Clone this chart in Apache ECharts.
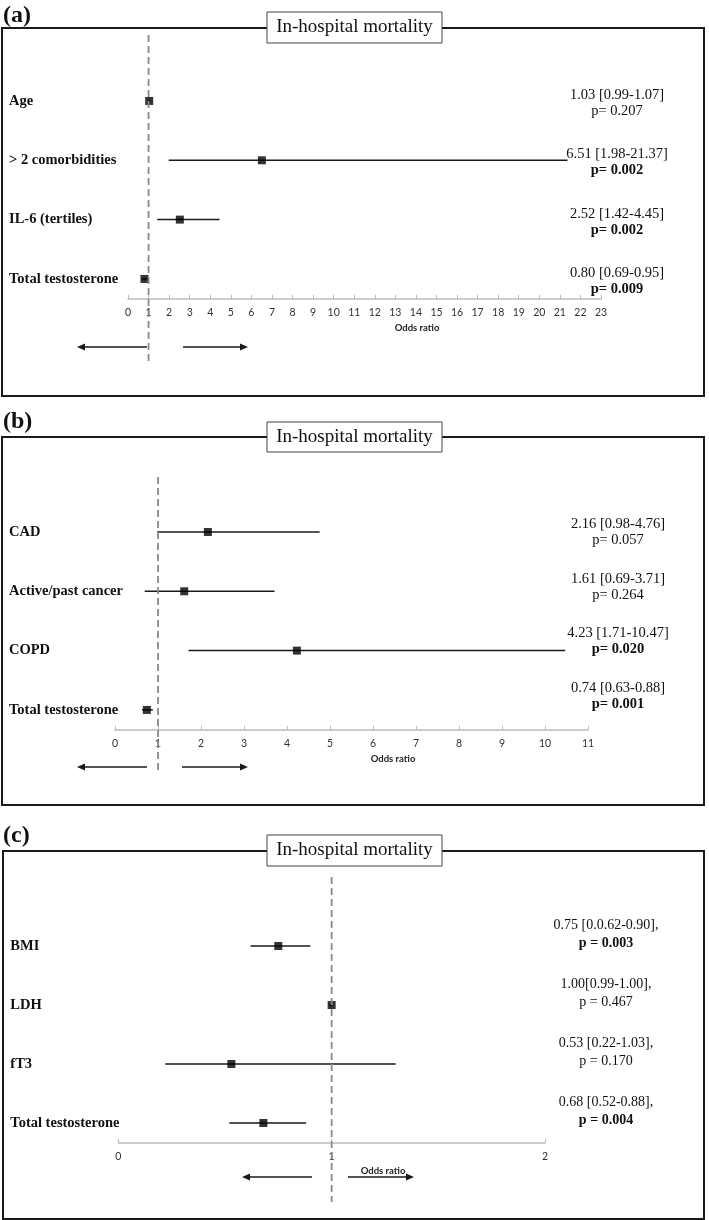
<!DOCTYPE html>
<html>
<head>
<meta charset="utf-8">
<script src="https://cdn.jsdelivr.net/npm/echarts@6/dist/echarts.min.js"></script>
<style>
html, body { margin: 0; padding: 0; background: #fff; }
#chart { width: 709px; height: 1220px; }
</style>
</head>
<body>
<div id="chart"></div>
<script>
// (a)
var aLabels = ['Age', '> 2 comorbidities', 'IL-6 (tertiles)', 'Total testosterone'];
var aOR = [1.03, 6.51, 2.52, 0.80];
var aLow = [0.99, 1.98, 1.42, 0.69];
var aHigh = [1.07, 21.37, 4.45, 0.95];
var aEst = ['1.03 [0.99-1.07]', '6.51 [1.98-21.37]', '2.52 [1.42-4.45]', '0.80 [0.69-0.95]'];
var aP = ['p= 0.207', 'p= 0.002', 'p= 0.002', 'p= 0.009'];
var aSig = [false, true, true, true];
var aAxis = [0, 23];

// (b)
var bLabels = ['CAD', 'Active/past cancer', 'COPD', 'Total testosterone'];
var bOR = [2.16, 1.61, 4.23, 0.74];
var bLow = [0.98, 0.69, 1.71, 0.63];
var bHigh = [4.76, 3.71, 10.47, 0.88];
var bEst = ['2.16 [0.98-4.76]', '1.61 [0.69-3.71]', '4.23 [1.71-10.47]', '0.74 [0.63-0.88]'];
var bP = ['p= 0.057', 'p= 0.264', 'p= 0.020', 'p= 0.001'];
var bSig = [false, false, true, true];
var bAxis = [0, 11];

// (c)
var cLabels = ['BMI', 'LDH', 'fT3', 'Total testosterone'];
var cOR = [0.75, 1.00, 0.53, 0.68];
var cLow = [0.62, 0.99, 0.22, 0.52];
var cHigh = [0.90, 1.00, 1.30, 0.88];
var cEst = ['0.75 [0.0.62-0.90],', '1.00[0.99-1.00],', '0.53 [0.22-1.03],', '0.68 [0.52-0.88],'];
var cP = ['p = 0.003', 'p = 0.467', 'p = 0.170', 'p = 0.004'];
var cSig = [true, false, false, true];
var cAxis = [0, 2];

var SERIF = '"Liberation Serif", "Times New Roman", serif';
var SANS = 'Lato, "Liberation Sans", sans-serif';

var panels = [
	{ tag: '(a)', labels: aLabels, or: aOR, lo: aLow, hi: aHigh, est: aEst, p: aP, sig: aSig, axis: aAxis,
	  left: 128, right: 108, top: 71.3, height: 237.3, offset: -9.7, labMargin: 119, labPad: [0, 0, 0, 0],
	  annTop: 73, annHeight: 238, annMargin: 16, annSize: 14.5, lineH: 16,
	  frame: [2, 28, 702, 368], box: [267, 12, 175, 31], tagY: 16, dash: [35, 365],
	  arrowY: 347, arrows: [147, 77, 183, 248], odds: [417, 328] },
	{ tag: '(b)', labels: bLabels, or: bOR, lo: bLow, hi: bHigh, est: bEst, p: bP, sig: bSig, axis: bAxis,
	  left: 115, right: 121, top: 502.3, height: 237.3, offset: -9.7, labMargin: 106, labPad: [8, 0, 0, 0],
	  annTop: 505, annHeight: 218, annMargin: 30, annSize: 14.5, lineH: 16,
	  frame: [2, 437, 702, 368], box: [267, 422, 175, 30], tagY: 422, dash: [477, 773],
	  arrowY: 767, arrows: [147, 77, 182, 248], odds: [393, 759] },
	{ tag: '(c)', labels: cLabels, or: cOR, lo: cLow, hi: cHigh, est: cEst, p: cP, sig: cSig, axis: cAxis,
	  left: 118.3, right: 164, top: 916.5, height: 236, offset: -9.5, labMargin: 108, labPad: [0, 0, 10, 0],
	  annTop: 905, annHeight: 236, annMargin: 61, annSize: 14, lineH: 18,
	  frame: [3, 851, 701, 368], box: [267, 835, 175, 31], tagY: 836, dash: [877, 1202],
	  arrowY: 1177, arrows: [312, 242, 348, 414], odds: [383, 1171] }
];

var grids = [], xAxes = [], yAxes = [], series = [];

panels.forEach(function (pn, k) {
	grids.push({ left: pn.left, right: pn.right, top: pn.top, height: pn.height });
	xAxes.push({
		type: 'value', gridIndex: k, min: pn.axis[0], max: pn.axis[1], interval: 1,
		position: 'bottom', offset: pn.offset,
		axisLine: { show: true, lineStyle: { color: '#bcbcbc', width: 1.5 } },
		axisTick: { show: true, inside: true, length: 4, lineStyle: { color: '#bcbcbc' } },
		axisLabel: { margin: 8, fontSize: 10.5, color: '#333', fontFamily: SANS },
		splitLine: { show: false }
	});
	yAxes.push({
		type: 'category', gridIndex: k, data: pn.labels, inverse: true,
		axisLine: { show: false }, axisTick: { show: false }, splitLine: { show: false },
		axisLabel: { interval: 0, align: 'left', margin: pn.labMargin, padding: pn.labPad,
			fontFamily: SERIF, fontWeight: 'bold', fontSize: 14.5, color: '#111' }
	});
	series.push({
		type: 'custom', xAxisIndex: k, yAxisIndex: k,
		data: pn.lo.map(function (v, i) { return [v, pn.hi[i], i]; }),
		encode: { x: [0, 1], y: 2 },
		renderItem: function (params, api) {
			var a = api.coord([api.value(0), api.value(2)]);
			var b = api.coord([api.value(1), api.value(2)]);
			return { type: 'line', shape: { x1: a[0], y1: a[1], x2: b[0], y2: b[1] },
				style: { stroke: '#1a1a1a', lineWidth: 1.5 } };
		},
		silent: true, z: 2
	});
	series.push({
		type: 'scatter', xAxisIndex: k, yAxisIndex: k,
		data: pn.or.map(function (v, i) { return [v, i]; }),
		symbol: 'rect', symbolSize: 8,
		itemStyle: { color: '#000' },
		silent: true, z: 3
	});
});

// right-hand estimate / p-value column, in its own grid per panel
panels.forEach(function (pn, k) {
	grids.push({ left: pn.left, right: pn.right, top: pn.annTop, height: pn.annHeight });
	xAxes.push({ type: 'value', gridIndex: 3 + k, show: false, min: pn.axis[0], max: pn.axis[1] });
	yAxes.push({
		type: 'category', gridIndex: 3 + k, data: pn.labels, inverse: true, position: 'right',
		axisLine: { show: false }, axisTick: { show: false }, splitLine: { show: false },
		axisLabel: {
			interval: 0, align: 'center', margin: pn.annMargin,
			formatter: function (v, i) {
				return '{e|' + pn.est[i] + '}\n{' + (pn.sig[i] ? 'b' : 'e') + '|' + pn.p[i] + '}';
			},
			rich: {
				e: { fontFamily: SERIF, fontSize: pn.annSize, lineHeight: pn.lineH, color: '#111' },
				b: { fontFamily: SERIF, fontSize: pn.annSize, lineHeight: pn.lineH, color: '#111', fontWeight: 'bold' }
			}
		}
	});
});

var chart = echarts.init(document.getElementById('chart'), null, { renderer: 'canvas' });
chart.setOption({
	animation: false,
	grid: grids,
	xAxis: xAxes,
	yAxis: yAxes,
	series: series
});

// frames, title boxes, reference lines, arrows
var gfx = [];
panels.forEach(function (pn, k) {
	var x1 = chart.convertToPixel({ xAxisIndex: k }, 1);
	gfx.push({ type: 'rect', shape: { x: pn.frame[0], y: pn.frame[1], width: pn.frame[2], height: pn.frame[3] },
		style: { fill: 'none', stroke: '#1a1a1a', lineWidth: 2 }, z: 0, silent: true });
	gfx.push({ type: 'rect', shape: { x: pn.box[0], y: pn.box[1], width: pn.box[2], height: pn.box[3] },
		style: { fill: '#fff', stroke: '#444', lineWidth: 1 }, z: 10, silent: true });
	gfx.push({ type: 'text', x: pn.box[0] + pn.box[2] / 2, y: pn.box[1] + pn.box[3] / 2, z: 11, silent: true,
		style: { text: 'In-hospital mortality', font: '19px ' + SERIF, fill: '#111', align: 'center', verticalAlign: 'middle' } });
	gfx.push({ type: 'text', x: 3, y: pn.tagY, z: 11, silent: true,
		style: { text: pn.tag, font: 'bold 24px ' + SERIF, fill: '#111', align: 'left', verticalAlign: 'middle' } });
	gfx.push({ type: 'line', shape: { x1: x1, y1: pn.dash[0], x2: x1, y2: pn.dash[1] }, z: 5, silent: true,
		style: { stroke: '#8a8a8a', lineWidth: 1.8, lineDash: [7, 4] } });
	var y = pn.arrowY, ar = pn.arrows;
	gfx.push({ type: 'line', shape: { x1: ar[0], y1: y, x2: ar[1] + 5, y2: y }, style: { stroke: '#1a1a1a', lineWidth: 1.3 }, silent: true });
	gfx.push({ type: 'polygon', shape: { points: [[ar[1], y], [ar[1] + 8, y - 3.5], [ar[1] + 8, y + 3.5]] }, style: { fill: '#1a1a1a' }, silent: true });
	gfx.push({ type: 'line', shape: { x1: ar[2], y1: y, x2: ar[3] - 5, y2: y }, style: { stroke: '#1a1a1a', lineWidth: 1.3 }, silent: true });
	gfx.push({ type: 'polygon', shape: { points: [[ar[3], y], [ar[3] - 8, y - 3.5], [ar[3] - 8, y + 3.5]] }, style: { fill: '#1a1a1a' }, silent: true });
	gfx.push({ type: 'text', x: pn.odds[0], y: pn.odds[1], z: 11, silent: true,
		style: { text: 'Odds ratio', font: 'bold 9.5px ' + SANS, fill: '#222', align: 'center', verticalAlign: 'middle' } });
});
chart.setOption({ graphic: gfx });
</script>
</body>
</html>
